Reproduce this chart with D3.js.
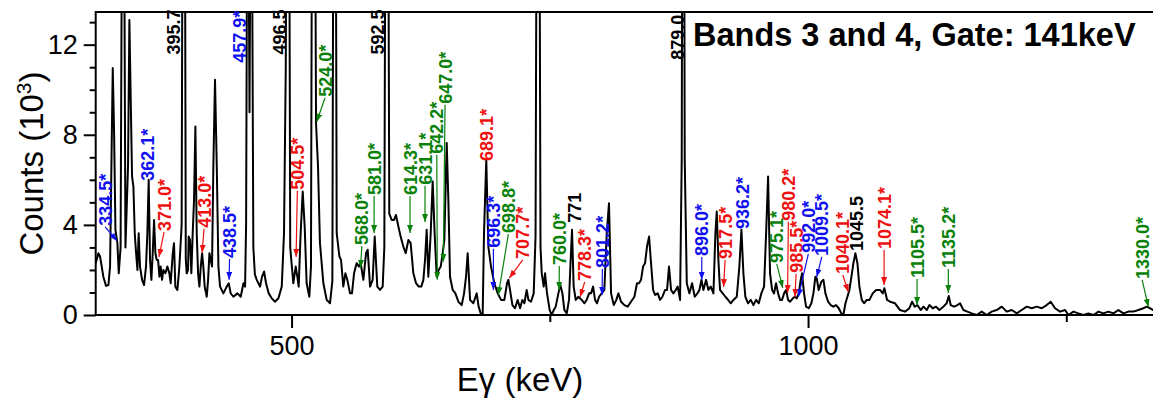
<!DOCTYPE html>
<html><head><meta charset="utf-8">
<script src="https://cdn.jsdelivr.net/npm/d3@7"></script>
<style>body{margin:0;background:#fff}svg{display:block}text{font-family:"Liberation Sans",Arial,sans-serif}</style>
</head><body><svg id="c" width="1153" height="398"></svg>
<script>
// Spectrum: energy (keV) and counts (10^3)
const energy = [310.4,313,314.6,317.8,320.4,322.7,324.3,325.6,326.9,328.2,329.5,331.4,332.7,334.5,336.9,339.2,341.7,343,344.3,345.6,346.9,348.2,349.5,350.8,352,353.3,355.3,357.2,359.1,360.4,361.7,363,364.3,365.6,366.9,368.2,369.5,370.8,372.1,373.3,374.6,375.9,377.9,379.8,381.7,383,385,386.2,387.5,389.5,391.4,393.6,395.7,397.6,398.5,399.8,400.4,401.7,403,404.3,405.6,406.9,408.2,409.5,410.8,412.1,413.4,414.6,415.9,417.9,419.2,420.5,421.8,423,424.3,425.9,427.6,429.2,430.8,434,437.2,439.2,441.1,443.7,447.6,450.8,453.4,455,456,457.5,459.3,461,463,464.5,466.3,469.5,471.4,473.4,475.3,477.9,480.8,484,487.3,490.5,492.7,494.4,496.5,498.7,501.7,504,505.6,506.9,508.8,510.8,512.7,514.6,517.2,518.8,521,523.7,525.6,527.5,530.8,534,537.2,539.5,541.6,543.7,546.3,547.9,550.1,552.1,554,556.6,558.5,560.5,563,565.3,566.9,569.5,572.1,573.7,576,578.5,580.5,583,585.6,588.2,589.8,592.2,594.6,596.9,599.2,601.1,603.4,605.6,608.2,610.5,613.1,615.3,617.9,620.5,623.1,625.6,627.6,629.2,630.8,632.4,634.7,636.6,638.5,640.5,642.4,644.4,646.3,647.9,650.2,651.8,653.4,656,658.6,661.5,664.7,667,668.9,670.5,672.8,676,679.2,681.1,683.1,685,686.3,688.5,690.5,693.1,696.3,699.6,702.8,706,708.6,709.9,711.5,713.8,716.3,718.9,721.2,723.4,725.4,727.6,729.3,731.8,734.4,736.2,738.6,741,742.2,744.1,745.4,747.3,749.9,751.8,753.8,755.7,758.3,760.2,762.2,764.1,766.4,768.6,769.9,771.5,773.1,775.1,777.7,780.9,783.5,785.7,788,789.9,791.9,793.8,795.7,797.7,800.2,802.8,805.1,807.3,809.3,811.9,814.4,816.4,819,822.2,825.4,828.6,831.9,834.4,836.4,838.3,840.3,842.2,844.1,846.1,848,850,851.9,854.5,856.7,859,861.6,863.5,865.4,867.4,869.6,871.9,873.8,876.1,877.7,879.2,880.6,882.6,885.1,887.7,890.3,892.9,894.8,896.8,898.7,901.3,903.5,905.8,908.4,910.3,911.6,913.2,914.8,917.4,920,922.6,925.2,927.7,931,933.5,935.5,937.4,939.3,941.9,944.5,947.1,949.7,952.3,954.8,957.4,959.4,961.3,963.2,965.2,967.1,969,971,972.9,974.8,976.8,978.7,980.7,982.6,985.2,987.1,989,991,992.9,994.2,996.1,998.1,1000.7,1003.2,1005.2,1007.1,1008.4,1010.3,1012.9,1014.9,1016.8,1019.4,1022,1024.5,1027.1,1029.7,1032.3,1034.2,1036.2,1038.1,1040,1042,1043.9,1045.8,1047.8,1049.7,1052,1054.2,1056.8,1059.4,1062.6,1065.9,1069.7,1072.3,1073.9,1076.5,1079.4,1084.2,1089.1,1093.9,1098.1,1100.7,1103.3,1105.8,1109.1,1111.7,1114.9,1117.5,1120.7,1123.9,1127.1,1131,1134.2,1136.2,1138.1,1141.3,1144.6,1147.1,1150.4,1154.2,1158.4,1163.3,1168.1,1173,1177.8,1182.6,1187.5,1192.3,1197.2,1202,1206.8,1211.7,1216.5,1221.4,1226.2,1231,1234.9,1239.1,1244,1248.8,1252,1256.9,1261.7,1266.5,1271.4,1276.2,1281.1,1285.9,1290.7,1295.6,1300.4,1305.3,1310.1,1314.9,1319.8,1324.6,1327.9,1331.1,1334,1340];
const counts = [2.3,2.74,2.6,1.7,1.29,1.33,2.15,6.6,10.96,8.1,3.78,3.19,1.85,3.0,30,3.0,6.6,13.1,9.56,6.15,5.7,3.63,2.74,2.0,3.63,2.15,1.56,1.33,2.15,3.63,6.0,2.44,1.56,2.74,4.22,2.74,2.44,2.44,1.7,2.15,1.56,2.0,1.85,2.15,1.85,1.41,2.74,3.19,1.26,1.11,2.15,4.0,40,2.5,1.85,2.0,3.48,3.33,1.85,3.63,5.1,8.37,3.63,1.85,1.26,2.15,2.74,2.15,1.26,0.81,1.56,2.74,2.44,2.15,6.6,10.44,6.6,2.15,1.26,0.96,1.26,1.41,0.96,0.81,0.96,0.81,1.41,1.26,4.0,25,9.0,25,3.0,1.8,1.56,1.26,1.7,1.93,1.41,0.96,0.74,0.59,0.74,1.26,3.63,11.0,40,3.0,1.41,2.15,1.7,1.26,3.63,5.48,3.93,1.41,0.81,2.15,40,8.5,6.6,3.19,1.41,0.67,0.52,1.5,40,3.63,2.6,2.44,1.26,1.85,1.56,0.96,0.96,1.85,2.3,2.15,2.3,1.56,2.74,2.9,1.26,1.56,3.48,1.26,1.11,1.26,3.0,40,4.5,4.22,4.22,4.44,3.93,3.48,3.04,2.74,3.33,3.19,1.85,1.41,1.26,1.26,1.56,2.44,3.78,1.7,3.63,5.93,3.63,1.7,2.0,2.15,2.74,3.33,7.63,5.1,1.7,1.11,0.96,0.59,0.44,0.96,1.7,2.74,0.67,0.52,0.96,0.37,0.07,0.0,3.63,6.9,3.04,2.15,1.41,0.96,0.67,0.67,1.41,1.56,1.11,0.44,0.3,0.67,0.3,0.67,0.52,1.11,0.67,0.59,0.96,3.5,40,3.0,1.85,1.26,1.85,0.96,0.22,0.0,0.22,0.37,0.96,1.33,0.96,0.22,0.07,0.67,2.15,3.78,1.26,0.67,0.81,0.67,0.52,0.67,0.96,0.96,1.26,0.67,0.52,0.81,0.96,1.11,3.63,4.96,0.96,0.44,0.67,0.96,0.59,0.44,0.37,0.59,0.81,1.41,1.41,1.56,2.15,2.3,3.04,3.48,2.3,1.11,0.89,0.96,0.67,0.81,1.11,1.11,2.15,1.11,0.96,1.11,1.26,0.67,6.9,40,6.9,1.41,0.96,1.41,0.81,0.96,1.11,1.56,1.11,1.56,1.11,1.26,0.96,3.63,4.59,2.44,1.11,0.96,0.81,0.67,0.52,0.67,0.81,2.15,3.78,1.85,0.81,0.52,0.67,0.44,0.67,0.52,0.96,1.26,3.63,6.15,1.85,1.11,0.96,1.41,0.96,0.67,0.67,0.96,1.11,0.67,0.59,0.74,0.81,0.74,0.96,1.56,1.85,0.96,0.37,0.3,0.52,0.96,1.7,1.63,1.11,1.48,1.56,0.96,0.59,0.44,0.37,0.44,0.3,0.07,0.0,0.52,0.81,1.11,1.7,2.3,2.74,2.3,1.26,0.67,0.52,0.67,0.67,0.96,1.11,1.11,0.96,1.19,0.67,0.59,0.52,0.22,0.15,0.3,0.59,0.37,0.44,0.22,0.37,0.22,0.44,0.3,0.37,0.22,0.37,0.52,0.84,0.44,0.37,0.44,0.52,0.22,0.15,0.07,0.0,0.15,0.0,0.15,0.22,0.37,0.15,0.22,0.07,0.22,0.37,0.3,0.37,0.3,0.44,0.59,0.3,0.15,0.22,0.0,0.15,0.07,0.0,0.07,0.0,0.15,0.07,0.15,0.07,0.22,0.07,0.15,0.15,0.22,0.3,0.37,0.3,0.22,0.2];

const xMajorTicks = [500, 1000];
const xMinorTicks = [750, 1250];
const yMajorTicks = [0, 4, 8, 12];
const yMinorTicks = [1, 2, 3, 5, 6, 7, 9, 10, 11, 13];
const xTitle = "Eγ (keV)";
const yTitle = "Counts (10";
const yTitleSup = "3";
const chartTitle = "Bands 3 and 4, Gate: 141keV";

// Peak labels: text, colour group, label anchor (keV, counts), arrow tip (keV, counts)
const labelText = ["334.5*","362.1*","371.0*","413.0*","438.5*","395.7","457.9*","496.5","504.5*","524.0*","568.0*","581.0*","592.5","614.3*","631.1*","642.2*","647.0*","689.1*","696.3*","698.8*","707.7*","760.0*","771","778.3*","801.2*","879.0","896.0*","917.5*","936.2*","975.1*","980.2*","985.5*","992.0*","1009.5*","1040.1*","1045.5","1074.1*","1105.5*","1135.2*","1330.0*"];
const labelGroup = ["b","b","r","r","b","k","b","k","r","g","g","g","k","g","g","g","g","r","b","g","r","g","k","r","b","k","b","r","b","g","r","r","b","b","r","k","r","g","g","g"];
const labelE = [319.5,360.8,376.6,415.3,440,385.6,449.5,488.2,505.6,532.4,568,579.9,582.8,614.7,629.2,640.6,648.6,689,695.4,709.9,723.8,759.2,773.5,783.8,800.9,873.5,897.1,919.7,936.8,969.7,980.9,988.4,1000.3,1013.3,1033.6,1047.1,1073.6,1105.5,1135.8,1323.4];
const labelC = [3.96,5.96,3.73,3.87,2.53,11.56,11.2,11.56,5.56,9.69,3.11,5.33,11.56,5.33,5.78,7.16,9.38,6.84,2.98,3.64,2.49,2.22,4.09,1.51,2.09,11.33,2.62,2.49,3.82,2.31,4.18,1.87,2.76,2.62,1.82,2.84,2.93,1.64,2.09,1.6];
const arrowE = [331.1,null,371.7,413.4,439.5,null,null,null,504.4,524.4,566.8,579.9,null,614.7,629.2,641.1,646.9,null,695.4,700.2,710.8,759,null,779.3,800.6,null,897.1,918.2,null,975.5,980.2,987.4,990.6,1008.4,1039,null,1073.6,1105.5,1135.8,1329.5];
const arrowC = [3.29,null,2.58,2.76,1.56,null,null,null,2.58,8.58,2.09,3.64,null,3.64,4.13,1.56,2.36,null,1.11,0.89,1.64,1.11,null,0.8,0.89,null,1.56,1.24,null,1.2,0.98,0.8,0.8,1.69,1.02,null,1.33,0.44,0.98,0.36];
const groupColor = {b:"#1010ee", r:"#ee1111", g:"#0a820a", k:"#000000"};

const svg = d3.select("#c");
const pLeft = 95.7, pTop = 12, pBottom = 315;
const x = d3.scaleLinear().domain([310.4, 1340]).range([pLeft, pLeft + (1340 - 310.4) * 1.033]);
const y = d3.scaleLinear().domain([0, 13.45]).range([pBottom, pTop]);
const pRight = x.range()[1];

const defs = svg.append("defs");
defs.append("clipPath").attr("id","clip")
  .append("rect").attr("x", pLeft).attr("y", pTop).attr("width", pRight - pLeft).attr("height", pBottom - pTop);
Object.entries(groupColor).forEach(([k, c]) => {
  defs.append("marker").attr("id","ah-"+k).attr("markerUnits","userSpaceOnUse")
    .attr("viewBox","0 0 8 6").attr("markerWidth",8).attr("markerHeight",6)
    .attr("refX",8).attr("refY",3).attr("orient","auto")
    .append("path").attr("d","M0,0L8,3L0,6Z").attr("fill", c);
});

// spectrum
const pts = energy.map((e, i) => [e, counts[i]]);
svg.append("path").datum(pts).attr("clip-path","url(#clip)")
  .attr("fill","none").attr("stroke","#000").attr("stroke-width",2).attr("stroke-linejoin","round")
  .attr("d", d3.line().x(d => x(d[0])).y(d => y(d[1])));

// axes
svg.append("g").attr("transform",`translate(0,${pBottom})`)
  .call(d3.axisBottom(x).tickValues(xMajorTicks).tickSize(13).tickPadding(8).tickFormat(d3.format("d")));
svg.append("g").attr("transform",`translate(${pLeft},0)`)
  .call(d3.axisLeft(y).tickValues(yMajorTicks).tickSize(12).tickPadding(6).tickFormat(d3.format("d")));
svg.append("g").attr("transform",`translate(0,${pBottom})`)
  .call(d3.axisBottom(x).tickValues(xMinorTicks).tickSize(7).tickFormat(""));
svg.append("g").attr("transform",`translate(${pLeft},0)`)
  .call(d3.axisLeft(y).tickValues(yMinorTicks).tickSize(6).tickFormat(""));
svg.selectAll(".domain").remove();
svg.selectAll(".tick line").attr("stroke","#000").attr("stroke-width",2);
svg.selectAll(".tick text").attr("font-size",27).attr("fill","#000").attr("font-family","Liberation Sans, Arial, sans-serif");

// frame
svg.append("rect").attr("x",pLeft).attr("y",pTop).attr("width",pRight-pLeft).attr("height",pBottom-pTop)
  .attr("fill","none").attr("stroke","#000").attr("stroke-width",2);

// axis titles
svg.append("text").attr("x", 520).attr("y", 391).attr("text-anchor","middle")
  .attr("font-size",33).text(xTitle);
const yt = svg.append("text").attr("transform",`translate(43,${(pTop+pBottom)/2}) rotate(-90)`)
  .attr("text-anchor","middle").attr("font-size",33);
yt.append("tspan").text(yTitle);
yt.append("tspan").attr("dy",-12).attr("font-size",21).text(yTitleSup);
yt.append("tspan").attr("dy",12).text(")");

// chart title
svg.append("text").attr("x",693).attr("y",46).attr("font-size",32.5).attr("font-weight","bold").text(chartTitle);

// peak labels
const lab = svg.append("g");
labelText.forEach((t, i) => {
  const c = groupColor[labelGroup[i]];
  const tx = x(labelE[i]), ty = y(labelC[i]);
  lab.append("text").attr("transform",`translate(${tx},${ty}) rotate(-90)`)
    .attr("dy","0.36em").attr("font-size",18).attr("font-weight","bold").attr("fill",c).text(t);
  if (arrowE[i] !== null) {
    lab.append("line").attr("x1",tx).attr("y1",ty+1).attr("x2",x(arrowE[i])).attr("y2",y(arrowC[i]))
      .attr("stroke",c).attr("stroke-width",1.2).attr("marker-end",`url(#ah-${labelGroup[i]})`);
  }
});
</script></body></html>
